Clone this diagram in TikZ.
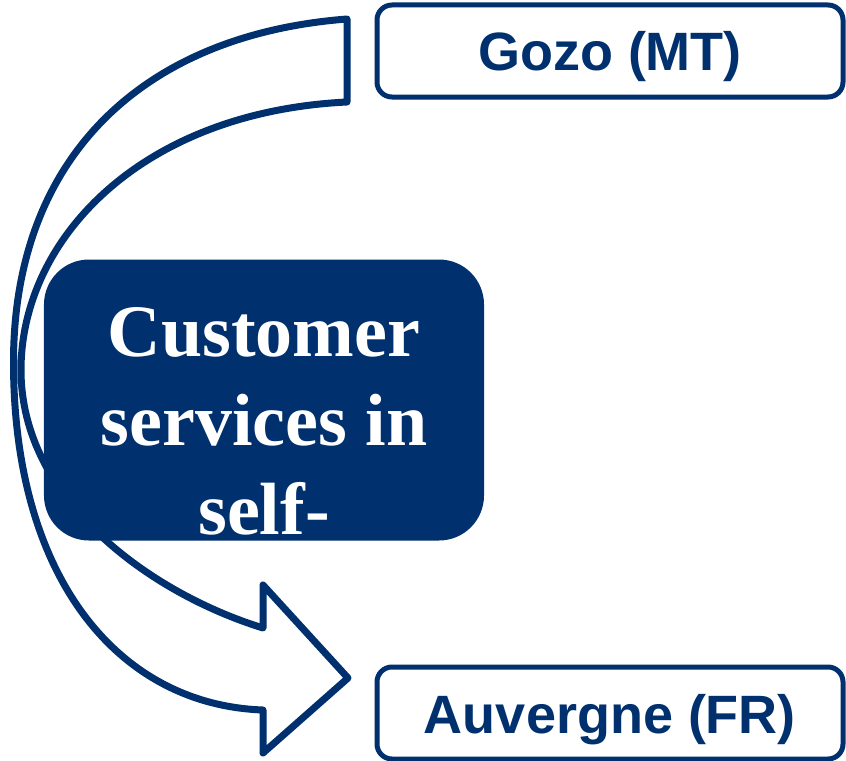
\documentclass[tikz,border=0pt]{standalone}
\usepackage{fontspec}
\setmainfont{Liberation Serif}
\newfontfamily\arialfont{Liberation Sans}
\usetikzlibrary{calc,positioning}
\definecolor{navy}{RGB}{0,48,110}
\tikzset{
	region/.style={draw=navy, line width=5bp, rounded corners=15bp, inner sep=2bp,
		minimum width=466bp, minimum height=92bp, text height=48bp, text depth=8bp,
		text=navy, font=\arialfont\bfseries\fontsize{54bp}{60bp}\selectfont},
	topic/.style={fill=navy, rounded corners=45bp, minimum width=440bp, minimum height=281bp},
	topictext/.style={text=white, align=center, font=\bfseries\fontsize{74bp}{89bp}\selectfont},
}

\begin{document}
\begin{tikzpicture}[x=1bp,y=-1bp]
	\useasboundingbox (0,0) rectangle (846,761);
	% curved arrow: outer edge down, head, inner edge back up
	\coordinate (outtop) at (347,19);
	\coordinate (outleft) at (13.5,362);
	\coordinate (outend) at (263,710);
	\coordinate (intop) at (347,102);
	\coordinate (inleft) at (21,370);
	\coordinate (inend) at (263,628);
	\draw[navy, fill=white, line width=7bp, line join=round]
		(outtop) .. controls (140,35) and (13.5,160) .. (outleft)
		.. controls (13.5,580) and (120,705) .. (outend)
		-- (263,753) -- (348,678) -- (263,585) -- (inend)
		.. controls (150,593) and (21,500) .. (inleft)
		.. controls (21,240) and (140,112) .. (intop)
		-- cycle;
	\node[topic] (services) at (264,400) {};
	\node[topictext] (servicestext) at ($(services.center)+(0,21)$) {Customer\\services in\\self-};
	\node[region] (gozo) at (610,51) {Gozo (MT)};
	\node[region] (auvergne) at (610,713) {Auvergne (FR)};
\end{tikzpicture}
\end{document}
